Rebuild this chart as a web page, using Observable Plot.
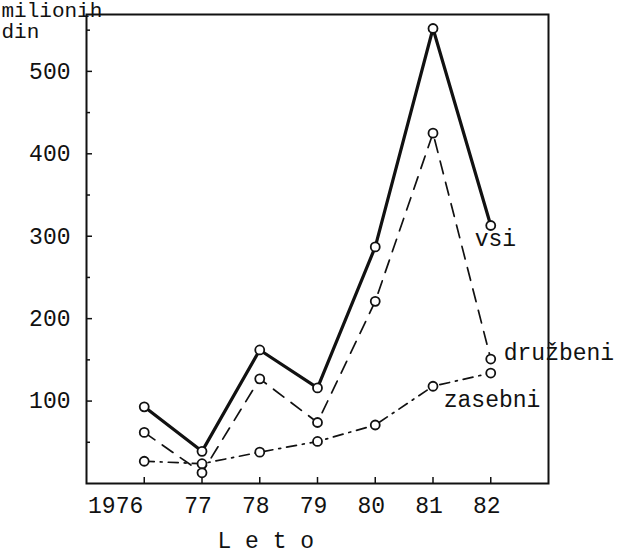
<!DOCTYPE html>
<html><head><meta charset="utf-8">
<script src="https://cdn.jsdelivr.net/npm/d3@7"></script>
<script src="https://cdn.jsdelivr.net/npm/@observablehq/plot@0.6"></script>
<style>
body{margin:0;background:#fff;}
</style></head><body><div id="chart"></div>
<script>
const years = [1976, 1977, 1978, 1979, 1980, 1981, 1982];
const yearLabels = ["1976", "77", "78", "79", "80", "81", "82"];
const vsi = [93, 39, 162, 116, 287, 552, 313];
const druzbeni = [62, 13, 127, 74, 221, 425, 151];
const zasebni = [27, 24, 38, 51, 71, 118, 134];
const seriesNames = ["vsi", "družbeni", "zasebni"];
const yTicks = [100, 200, 300, 400, 500];
const yMinorTicks = [50, 150, 250, 350, 450, 550];
const yUnit = "milionih\ndin";
const xTitle = "L e t o";

const rows = (name, vals) => years.map((y, i) => ({year: y, value: vals[i], series: name}));
const sVsi = rows(seriesNames[0], vsi);
const sDru = rows(seriesNames[1], druzbeni);
const sZas = rows(seriesNames[2], zasebni);
const all = [...sVsi, ...sDru, ...sZas];
const lastOf = s => [s[s.length - 1]];
const fmtYear = d => yearLabels[years.indexOf(d)];

const ink = "#111";
const chart = Plot.plot({
  width: 617, height: 555,
  marginLeft: 86, marginRight: 69, marginTop: 14, marginBottom: 72,
  style: {fontFamily: '"Liberation Mono", monospace', fontSize: "23px", background: "#fff", color: ink},
  x: {domain: [1975, 1983]},
  y: {domain: [0, 569]},
  marks: [
    Plot.frame({stroke: ink, strokeWidth: 2}),
    Plot.axisY({ticks: yMinorTicks, tickSize: -4, tickFormat: () => "", label: null, strokeWidth: 1.5}),
    Plot.axisY({ticks: yTicks, tickSize: -6, tickFormat: () => "", label: null, strokeWidth: 1.5}),
    Plot.axisY({ticks: yTicks, tickSize: 0, tickPadding: 16, label: null, fontSize: 23}),
    Plot.axisX({ticks: years, tickSize: -6, tickFormat: () => "", label: null, strokeWidth: 1.5}),
    Plot.axisX({ticks: years.slice(1), tickSize: 0, tickPadding: 13, tickFormat: fmtYear, dx: -4, label: null, fontSize: 23}),
    Plot.axisX({ticks: years.slice(0, 1), tickSize: 0, tickPadding: 13, tickFormat: fmtYear, textAnchor: "end", dx: -1, label: null, fontSize: 23}),
    Plot.line(sVsi, {x: "year", y: "value", stroke: ink, strokeWidth: 3.2}),
    Plot.line(sDru, {x: "year", y: "value", stroke: ink, strokeWidth: 1.7, strokeDasharray: "13,9"}),
    Plot.line(sZas, {x: "year", y: "value", stroke: ink, strokeWidth: 1.7, strokeDasharray: "10,6,2,6"}),
    Plot.dot(all, {x: "year", y: "value", r: 4.5, fill: "#fff", stroke: ink, strokeWidth: 1.8}),
    Plot.text(lastOf(sVsi), {x: "year", y: "value", text: "series", textAnchor: "start", lineAnchor: "bottom", dx: -16, dy: 20, fontSize: 23, fill: ink}),
    Plot.text(lastOf(sDru), {x: "year", y: "value", text: "series", textAnchor: "start", lineAnchor: "bottom", dx: 13, dy: 1, fontSize: 23, fill: ink}),
    Plot.text(lastOf(sZas), {x: "year", y: "value", text: "series", textAnchor: "start", lineAnchor: "bottom", dx: -47, dy: 34, fontSize: 23, fill: ink}),
    Plot.text([yUnit], {frameAnchor: "top-left", text: d => d, textAnchor: "start", lineAnchor: "bottom", lineHeight: 1.0, dx: -85, dy: 23, fontSize: 21, fill: ink}),
    Plot.text([xTitle], {frameAnchor: "bottom-left", text: d => d, textAnchor: "start", lineAnchor: "bottom", dx: 131, dy: 64, fontSize: 23, fill: ink})
  ]
});
document.getElementById("chart").appendChild(chart);
</script></body></html>
